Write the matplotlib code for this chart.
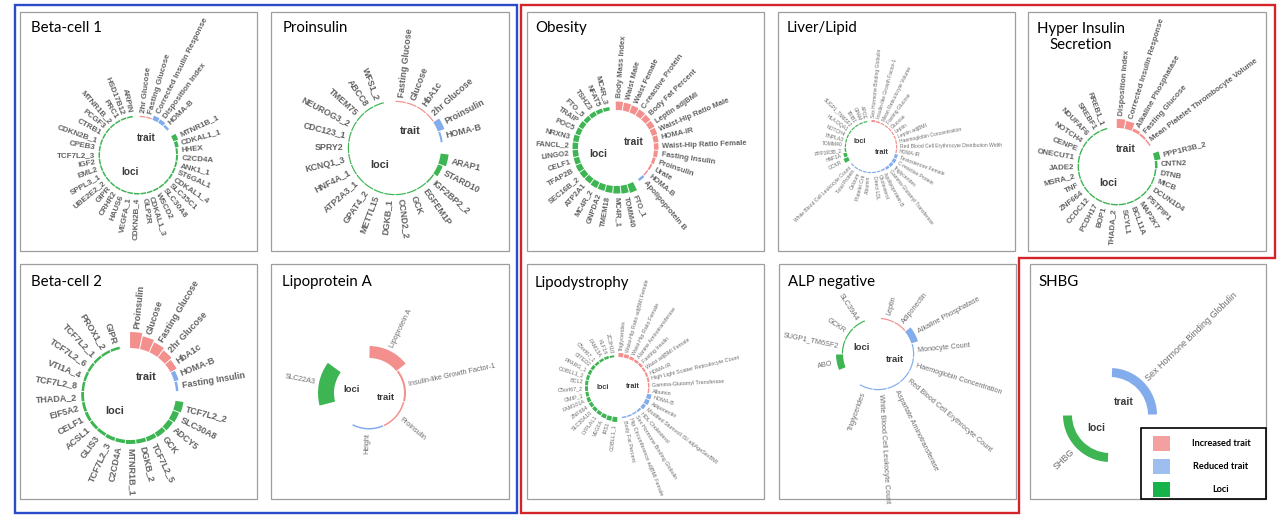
import numpy as np
import matplotlib
matplotlib.use("Agg")
import matplotlib.pyplot as plt
from matplotlib.patches import Rectangle, Polygon

W, H = 1280, 518

# ---------------------------------------------------------------- data
beta1_traits = ["2hr Glucose", "Fasting Glucose", "Corrected Insulin Response",
                "Disposition Index", "HOMA-B"]
beta1_trait_values = [1.2, 1.2, 4.5, 4.0, 2.5]
beta1_trait_effect = ["up", "up", "down", "down", "down"]
beta1_loci = ["MTNR1B_1", "CDKAL1_1", "HHEX", "C2CD4A", "ANK1_1", "ST6GAL1", "CDKAL1_4",
              "SLC35C1", "SLC30A8", "WSCD2", "CDKAL1_3", "GLP2R", "CDKN2B_4", "VEGFA_1",
              "HAUS6", "CRHR2", "GIPR", "UBE2E2_2", "SPPL3_1", "EML2", "IGF2", "TCF7L2_3",
              "CPEB3", "CDKN2B_1", "CTRB1", "PCGF3", "MTNR1B_2", "PRC1", "HSD17B12", "ARPIN"]
beta1_loci_values = [5.0, 3.5, 2.0, 2.0, 1.8, 1.8, 1.8, 1.6, 1.6, 1.6, 1.5, 1.5, 1.5, 1.5,
                     1.5, 1.5, 1.5, 1.5, 1.5, 1.5, 1.5, 1.5, 1.5, 1.5, 1.5, 1.5, 1.5, 1.5,
                     1.5, 1.5]

pro_traits = ["Fasting Glucose", "Glucose", "HbA1c", "2hr Glucose", "Proinsulin", "HOMA-B"]
pro_trait_values = [1.2, 1.2, 1.2, 1.2, 7.0, 2.0]
pro_trait_effect = ["up", "up", "up", "up", "down", "down"]
pro_loci = ["ARAP1", "STARD10", "IGF2BP2_2", "EGFEM1P", "GCK", "CCND2_2", "DGKB_1",
            "METTL15", "GPAT4_2", "ATP2A3_1", "HNF4A_1", "KCNQ1_3", "SPRY2", "CDC123_1",
            "NEUROG3_2", "TMEM75", "ABCC8", "WFS1_2"]
pro_loci_values = [8.0, 5.0, 1.5, 1.2, 1.2, 1.2, 1.2, 1.2, 1.2, 1.2, 1.2, 1.2, 1.2, 1.2,
                   1.2, 1.2, 1.2, 1.2]

ob_traits = ["Body Mass Index", "Waist Male", "Waist Female", "C-reactive Protein",
             "Body Fat Percent", "Leptin adjBMI", "Waist-Hip Ratio Male", "HOMA-IR",
             "Waist-Hip Ratio Female", "Fasting Insulin", "Proinsulin", "Urate", "HOMA-B",
             "Apolipoprotein B"]
ob_trait_values = [8.5, 8.0, 7.5, 7.0, 6.5, 6.0, 5.5, 5.0, 4.5, 4.0, 3.0, 2.0, 1.5, 2.5]
ob_trait_effect = ["up"] * 13 + ["down"]
ob_loci = ["FTO_1", "TOMM40", "MC4R_1", "TMEM18", "GNPDA2", "MC4R_2", "ATP2A1", "SEC16B_2",
           "TFAP2B", "CELF1", "LINGO2", "FANCL_2", "NRXN3", "POC5", "TRAIP", "FTO_5",
           "TSHZ3", "NFAT5", "MC4R_3"]
ob_loci_values = [9.0, 8.0, 7.5, 7.0, 6.5, 6.5, 6.0, 6.0, 6.0, 5.5, 5.5, 5.5, 5.5, 5.0,
                  5.0, 4.5, 4.5, 4.0, 3.5]

liv_traits = ["Sex Hormone Binding Globulin", "Insulin-like Growth Factor-1",
              "Mean Reticulocyte Volume", "Fasting Glucose", "Glucose", "Leptin",
              "Leptin adjBMI", "Haemoglobin Concentration",
              "Red Blood Cell Erythrocyte Distribution Width", "HOMA-IR",
              "Testosterone Female", "C-reactive Protein", "Triglycerides",
              "Gamma-Glutamyl Transferase", "Apolipoprotein B", "Cholesterol", "Direct LDL",
              "Albumin", "Platelet Crit", "Calcium", "Total Protein",
              "White Blood Cell Leukocyte Count"]
liv_trait_values = [2.0, 1.5, 1.2, 1.2, 1.2, 1.2, 1.2, 1.2, 1.2, 1.2, 3.0, 3.5, 3.0, 2.5,
                    1.5, 1.2, 1.2, 1.2, 1.2, 1.2, 1.2, 1.2]
liv_trait_effect = ["up"] * 10 + ["down"] * 12
liv_loci = ["GCKR", "HNF1A", "PPP1R3B_2", "TOMM40", "PNPLA3", "NOTCH4", "HLA-DQA1",
            "SUGP1_TM6SF2", "TRIB1", "GPAM", "APOE"]
liv_loci_values = [5.0, 3.5, 1.5, 1.2, 1.2, 1.2, 1.2, 1.2, 1.2, 1.2, 1.2]

hyp_traits = ["Disposition Index", "Corrected Insulin Response", "Alkaline Phosphatase",
              "Fasting Glucose", "Mean Platelet Thrombocyte Volume"]
hyp_trait_values = [9.0, 8.0, 3.0, 2.0, 1.5]
hyp_trait_effect = ["up", "up", "up", "up", "up"]
hyp_loci = ["PPP1R3B_2", "CNTN2", "DTNB", "MICB", "DCUN1D4", "PSTPIP1", "MAP2K7", "BCL11A",
            "SCYL1", "THADA_2", "BOP1", "PCDH17", "CCDC12", "ZNF664", "TNF", "MSRA_2",
            "JADE2", "ONECUT1", "CENPE", "NOTCH4", "NDUFAF6", "SREBF1", "RREB1_1"]
hyp_loci_values = [6.0, 2.5, 1.5, 1.4, 1.4, 1.4, 1.4, 1.4, 1.4, 1.4, 1.4, 1.4, 1.4, 1.4,
                   1.4, 1.4, 1.4, 1.4, 1.4, 1.4, 1.4, 1.4, 1.4]

beta2_traits = ["Proinsulin", "Glucose", "Fasting Glucose", "2hr Glucose", "HbA1c",
                "HOMA-B", "Fasting Insulin"]
beta2_trait_values = [16.0, 13.0, 11.0, 9.0, 7.0, 4.5, 2.5]
beta2_trait_effect = ["up", "up", "up", "up", "up", "down", "down"]
beta2_loci = ["TCF7L2_2", "SLC30A8", "ADCY5", "GCK", "TCF7L2_5", "DGKB_2", "MTNR1B_1",
              "C2CD4A", "TCF7L2_3", "GLIS3", "ACSL1", "CELF1", "EIF5A2", "THADA_2",
              "TCF7L2_8", "VTI1A_4", "TCF7L2_6", "TCF7L2_1", "PROX1_2", "GIPR"]
beta2_loci_values = [8.0, 6.5, 5.5, 5.0, 4.5, 4.0, 4.0, 3.5, 3.5, 3.0, 3.0, 3.0, 2.8, 2.8,
                     2.5, 2.5, 2.5, 2.5, 2.5, 2.5]

lpa_traits = ["Lipoprotein A", "Insulin-like Growth Factor-1", "Proinsulin", "Height"]
lpa_trait_values = [12.0, 2.0, 1.5, 1.5]
lpa_trait_effect = ["up", "up", "up", "down"]
lpa_loci = ["SLC22A3"]
lpa_loci_values = [16.0]

lip_traits = ["Triglycerides", "Waist-Hip Ratio adjBMI Female", "Waist-Hip Ratio Female",
              "Alanine Aminotransferase", "Fasting Insulin", "Waist adjBMI Female",
              "HOMA-IR", "High Light Scatter Reticulocyte Count",
              "Gamma-Glutamyl Transferase", "Albumin", "HOMA-B", "Adiponectin",
              "Modified Stumvoll ISI adjAgeSexBMI", "HDL Cholesterol",
              "Sex Hormone Binding Globulin", "Hip Circumference adjBMI Female",
              "Body Fat Percent"]
lip_trait_values = [4.0, 3.5, 3.0, 2.5, 2.5, 2.0, 2.0, 2.0, 1.5, 1.5, 4.5, 4.5, 3.5, 2.0,
                    1.5, 1.5, 1.5]
lip_trait_effect = ["up"] * 10 + ["down"] * 7
lip_loci = ["COBLL1_1", "IRS1", "VEGFA", "LYPLAL1", "SLC30A10", "ZNF664", "FAM101A",
            "CMIP_1", "C5orf67_2", "BCL2", "COBLL1_2", "PPARG_1", "CITED2", "C5orf67_1",
            "FAM13A", "KLF14", "ZC3H10"]
lip_loci_values = [5.0, 4.5, 4.0, 3.5, 3.5, 3.5, 3.5, 3.0, 3.0, 3.0, 3.0, 3.0, 3.0, 2.5,
                   2.5, 2.5, 2.0]

alp_traits = ["Leptin", "Adiponectin", "Alkaline Phosphatase", "Monocyte Count",
              "Haemoglobin Concentration", "Red Blood Cell Erythrocyte Count",
              "Aspartate Aminotransferase", "White Blood Cell Leukocyte Count",
              "Triglycerides"]
alp_trait_values = [1.2, 1.2, 7.0, 1.2, 1.2, 1.2, 1.2, 1.2, 1.2]
alp_trait_effect = ["up", "up"] + ["down"] * 7
alp_loci = ["ABO", "SUGP1_TM6SF2", "GCKR", "SLC39A4"]
alp_loci_values = [7.0, 1.2, 1.2, 1.2]

shbg_traits = ["Sex Hormone Binding Globulin"]
shbg_trait_values = [9.0]
shbg_trait_effect = ["down"]
shbg_loci = ["SHBG"]
shbg_loci_values = [9.0]

legend_labels = ["Increased trait", "Reduced trait", "Loci"]

# ---------------------------------------------------------------- styles
C_UP = "#F3908D"
C_DOWN = "#82ACEC"
C_LOCI = "#3DB553"
LEG_COLORS = ["#F5A0A0", "#9DBFF0", "#16B24A"]
LABEL_FONT = "Liberation Sans"
TITLE_FONT = "Lato"

fig = plt.figure(figsize=(12.8, 5.18), dpi=100)
fig.patch.set_facecolor("white")

ov = fig.add_axes([0, 0, 1, 1])
ov.set_xlim(0, W)
ov.set_ylim(H, 0)
ov.axis("off")

# frames
ov.add_patch(Rectangle((15, 5), 502, 508, fill=False, edgecolor="#2B4BC8", lw=1.7))
ov.add_patch(Polygon([(521, 5), (1275, 5), (1275, 258), (1019, 258), (1019, 513),
                      (521, 513)], closed=True, fill=False, edgecolor="#D3242A", lw=1.7))

layouts = [
    dict(title="Beta-cell 1", box=(20, 12, 257, 251), tpos=(31, 28), center=(138, 155),
         r0=38, a0=2, w=9.77, gap=9, fs=5.8, wt="bold", pad=3.5, sfs=7.2),
    dict(title="Proinsulin", box=(271, 12, 509, 251), tpos=(283, 28), center=(395, 148),
         r0=46, a0=0, w=13.9, gap=13, fs=6.4, wt="bold", pad=4, sfs=7.8),
    dict(title="Obesity", box=(527, 12, 764, 251), tpos=(535, 28), center=(616, 148),
         r0=38, a0=-1, w=10.45, gap=7.5, fs=5.5, wt="bold", pad=3.5, sfs=7.5),
    dict(title="Liver/Lipid", box=(778, 12, 1015, 251), tpos=(787, 28), center=(871, 147),
         r0=25, a0=0, w=10.5, gap=6, fs=3.6, wt="normal", pad=2.5, sfs=5.2),
    dict(title="Hyper Insulin\nSecretion", box=(1028, 12, 1266, 251), tpos=(1081, 37),
         center=(1117, 166), r0=38, a0=-1, w=12, gap=11, fs=5.7, wt="bold", pad=3.5,
         sfs=7.5, center_title=True),
    dict(title="Beta-cell 2", box=(20, 264, 257, 499), tpos=(31, 282), center=(130, 394),
         r0=46, a0=-0.5, w=12.5, gap=11, fs=6.5, wt="bold", pad=4, sfs=7.8),
    dict(title="Lipoprotein A", box=(271, 264, 509, 499), tpos=(282, 282),
         center=(369, 393), r0=35, a0=0, w=52, gap=47, fs=5.2, wt="normal", pad=4,
         sfs=6.8),
    dict(title="Lipodystrophy", box=(527, 264, 764, 499), tpos=(535, 283),
         center=(618, 387), r0=30, a0=0, w=10.2, gap=7, fs=3.9, wt="normal", pad=2.5,
         sfs=5.2),
    dict(title="ALP negative", box=(779, 264, 1016, 499), tpos=(788, 282),
         center=(878, 354), r0=35, a0=4, w=23, gap=36, fs=5.2, wt="normal", pad=4,
         sfs=6.8),
    dict(title="SHBG", box=(1030, 264, 1266, 499), tpos=(1038, 282), center=(1110, 415),
         r0=38, a0=2, w=88, gap=92, fs=6.5, wt="normal", pad=4, sfs=7.5),
]

panel_data = [
    (beta1_traits, beta1_trait_values, beta1_trait_effect, beta1_loci, beta1_loci_values),
    (pro_traits, pro_trait_values, pro_trait_effect, pro_loci, pro_loci_values),
    (ob_traits, ob_trait_values, ob_trait_effect, ob_loci, ob_loci_values),
    (liv_traits, liv_trait_values, liv_trait_effect, liv_loci, liv_loci_values),
    (hyp_traits, hyp_trait_values, hyp_trait_effect, hyp_loci, hyp_loci_values),
    (beta2_traits, beta2_trait_values, beta2_trait_effect, beta2_loci, beta2_loci_values),
    (lpa_traits, lpa_trait_values, lpa_trait_effect, lpa_loci, lpa_loci_values),
    (lip_traits, lip_trait_values, lip_trait_effect, lip_loci, lip_loci_values),
    (alp_traits, alp_trait_values, alp_trait_effect, alp_loci, alp_loci_values),
    (shbg_traits, shbg_trait_values, shbg_trait_effect, shbg_loci, shbg_loci_values),
]


def draw_panel(data, L):
    traits, tvals, teff, loci, lvals = data
    x0, y0, x1, y1 = L["box"]
    ov.add_patch(Rectangle((x0, y0), x1 - x0, y1 - y0, fill=False, edgecolor="#9E9E9E",
                           lw=0.9))
    if L.get("center_title"):
        ov.text(L["tpos"][0], L["tpos"][1], L["title"], fontsize=10.8, family=TITLE_FONT,
                ha="center", va="center", multialignment="center", linespacing=1.15)
    else:
        ov.text(L["tpos"][0], L["tpos"][1], L["title"], fontsize=10.8, family=TITLE_FONT,
                ha="left", va="center")

    cx, cy = L["center"]
    r0, a0, w, g = L["r0"], L["a0"], L["w"], L["gap"]
    nt, nl = len(traits), len(loci)
    t_c = a0 + w * (np.arange(nt) + 0.5)
    l_start = a0 + w * nt + g
    l_c = l_start + w * (np.arange(nl) + 0.5)
    R = r0 + max(max(tvals), max(lvals)) + 3
    ax = fig.add_axes([(cx - R) / W, 1 - (cy + R) / H, 2 * R / W, 2 * R / H],
                      projection="polar")
    ax.set_theta_zero_location("N")
    ax.set_theta_direction(-1)
    ax.set_axis_off()
    sep = np.degrees(0.9 / r0)
    tcols = [C_UP if e == "up" else C_DOWN for e in teff]
    ax.bar(np.radians(t_c), tvals, width=np.radians(w - sep), bottom=r0, color=tcols,
           linewidth=0, align="center")
    ax.bar(np.radians(l_c), lvals, width=np.radians(w - sep), bottom=r0, color=C_LOCI,
           linewidth=0, align="center")
    ax.set_ylim(0, R)

    col = "#626262" if L["wt"] == "bold" else "#6E6E6E"
    for ang, name, h in zip(list(t_c) + list(l_c), list(traits) + list(loci),
                            list(tvals) + list(lvals)):
        phi = 90 - ang
        phi = (phi + 180) % 360 - 180
        if -90 <= phi <= 90:
            rot, ha = phi, "left"
        else:
            rot, ha = phi + 180 if phi < -90 else phi - 180, "right"
        ax.text(np.radians(ang), r0 + h + L["pad"], name, rotation=rot,
                rotation_mode="anchor", ha=ha, va="center", fontsize=L["fs"],
                fontweight=L["wt"], color=col, family=LABEL_FONT)

    tmid = a0 + w * nt / 2
    lmid = l_start + w * nl / 2
    for ang, txt in ((tmid, "trait"), (lmid, "loci")):
        ax.text(np.radians(ang), 0.5 * r0, txt, ha="center", va="center",
                fontsize=L["sfs"], fontweight="bold", color="#3A3A3A", family=LABEL_FONT)


for d, L in zip(panel_data, layouts):
    draw_panel(d, L)

# legend (inside SHBG panel)
ov.add_patch(Rectangle((1141, 428), 125, 71, fill=False, edgecolor="black", lw=1.2))
for i, (lab, c) in enumerate(zip(legend_labels, LEG_COLORS)):
    ytop = 436 + i * 22.8
    ov.add_patch(Rectangle((1153, ytop), 17, 15, facecolor=c, edgecolor="none"))
    ov.text(1221, ytop + 7.5, lab, ha="center", va="center", fontsize=6.6,
            fontweight="bold", family=TITLE_FONT, color="black")

fig.savefig("out.png", dpi=100)
